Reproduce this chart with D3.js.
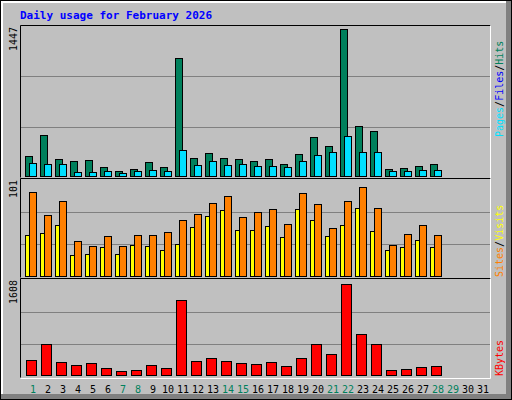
<!DOCTYPE html>
<html>
<head>
<meta charset="utf-8">
<script src="https://cdn.jsdelivr.net/npm/d3@7"></script>
<style>
  body { margin: 0; background: #fff; }
  text { font-family: "DejaVu Sans Mono", monospace; }
</style>
</head>
<body>
<svg id="chart" width="512" height="400"></svg>
<script>
// values
var days = d3.range(1, 32);
var weekend = [1, 7, 8, 14, 15, 21, 22, 28, 29];
var hits = [193, 405, 164, 145, 154, 87, 48, 68, 135, 87, 1157, 174, 222, 174, 164, 145,
            164, 116, 212, 386, 299, 1447, 492, 444, 68, 77, 96, 116];
var files = [125, 116, 116, 39, 39, 48, 29, 48, 58, 48, 260, 106, 145, 106, 116, 96,
             96, 87, 145, 203, 241, 396, 241, 232, 48, 48, 58, 58];
var sites = [88, 64, 79, 37, 32, 42, 32, 43, 43, 46, 59, 65, 77, 84, 62, 67,
             71, 55, 87, 76, 51, 79, 94, 72, 33, 44, 54, 43];
var visits = [43, 45, 54, 22, 23, 31, 23, 33, 32, 27, 34, 52, 63, 69, 48, 48,
              53, 41, 70, 59, 42, 54, 72, 47, 27, 30, 38, 31];
var kbytes = [270, 551, 235, 182, 217, 130, 77, 95, 182, 130, 1322, 253, 305, 253, 217, 200,
              235, 165, 305, 551, 375, 1608, 726, 551, 95, 112, 147, 165];
var maxHits = 1447, maxSites = 101, maxKB = 1608;

var svg = d3.select("#chart");

// outer frame
svg.append("rect").attr("x", 0).attr("y", 0).attr("width", 512).attr("height", 400).attr("fill", "#000");
svg.append("rect").attr("x", 1).attr("y", 1).attr("width", 510).attr("height", 398).attr("fill", "#808080");
svg.append("rect").attr("x", 1).attr("y", 1).attr("width", 505).attr("height", 393).attr("fill", "#fff");
svg.append("rect").attr("x", 3).attr("y", 3).attr("width", 503).attr("height", 391).attr("fill", "#c0c0c0");

svg.append("text").attr("x", 20).attr("y", 19)
    .attr("font-size", 11).attr("font-weight", "bold").attr("fill", "#0000ff")
    .text("Daily usage for February 2026");

var x = d3.scaleLinear().domain([1, 31]).range([33, 483]);

function panel(top, bottom) {
    var g = svg.append("g");
    g.append("rect").attr("x", 20).attr("y", top).attr("width", 471).attr("height", bottom - top)
        .attr("fill", "#c0c0c0");
    var grid = d3.scaleLinear().domain([0, 3]).range([bottom, top + 1]);
    [1, 2].forEach(function(k) {
        g.append("line").attr("x1", 21).attr("x2", 490)
            .attr("y1", Math.round(grid(k)) + 0.5).attr("y2", Math.round(grid(k)) + 0.5)
            .attr("stroke", "#808080");
    });
    g.append("path").attr("d", "M20.5," + (bottom + 0.5) + "V" + (top + 0.5) + "H490.5")
        .attr("stroke", "#000").attr("fill", "none");
    g.append("path").attr("d", "M20.5," + (bottom + 1.5) + "H490.5V" + (top + 0.5))
        .attr("stroke", "#fff").attr("fill", "none");
    return g;
}

function bars(g, data, y, base, dx, w, color) {
    g.selectAll(null).data(data).enter().append("rect")
        .attr("x", function(d, i) { return x(i + 1) + dx + 0.5; })
        .attr("y", function(d) { return Math.round(y(d)) + 0.5; })
        .attr("width", w)
        .attr("height", function(d) { return base - Math.round(y(d)); })
        .attr("fill", color).attr("stroke", "#000");
}

// hits / files
var p1 = panel(25, 177);
var y1 = d3.scaleLinear().domain([0, maxHits]).range([176, 29]);
bars(p1, hits, y1, 176, -8, 7, "#00805c");
bars(p1, files, y1, 176, -4, 7, "#00e0ff");

// visits / sites
var p2 = panel(178, 277);
var y2 = d3.scaleLinear().domain([0, maxSites]).range([276, 180]);
bars(p2, visits, y2, 276, -8, 4, "#ffff00");
bars(p2, sites, y2, 276, -4, 7, "#ff8000");

// kbytes
var p3 = panel(278, 377);
var y3 = d3.scaleLinear().domain([0, maxKB]).range([375, 284]);
bars(p3, kbytes, y3, 375, -7, 10, "#ff0000");

// y max labels
[[maxHits, 27], [maxSites, 180], [maxKB, 280]].forEach(function(m) {
    svg.append("text").attr("transform", "translate(17," + m[1] + ") rotate(-90)")
        .attr("text-anchor", "end").attr("font-size", 10).attr("fill", "#000").text(m[0]);
});

// day labels
svg.selectAll(".day").data(days).enter().append("text")
    .attr("x", function(d) { return x(d); }).attr("y", 393)
    .attr("text-anchor", "middle").attr("font-size", 10)
    .attr("fill", function(d) { return weekend.indexOf(d) >= 0 ? "#00805c" : "#000"; })
    .text(function(d) { return d; });

// right side legends
function legend(yb, parts) {
    var t = svg.append("text").attr("transform", "translate(503," + yb + ") rotate(-90)")
        .attr("font-size", 10);
    parts.forEach(function(p) { t.append("tspan").attr("fill", p[1]).text(p[0]); });
}
legend(137, [["Pages", "#00e0ff"], ["/", "#000"], ["Files", "#0000ff"], ["/", "#000"], ["Hits", "#00805c"]]);
legend(277, [["Sites", "#ff8000"], ["/", "#000"], ["Visits", "#ffff00"]]);
legend(376, [["KBytes", "#ff0000"]]);
</script>
</body>
</html>
